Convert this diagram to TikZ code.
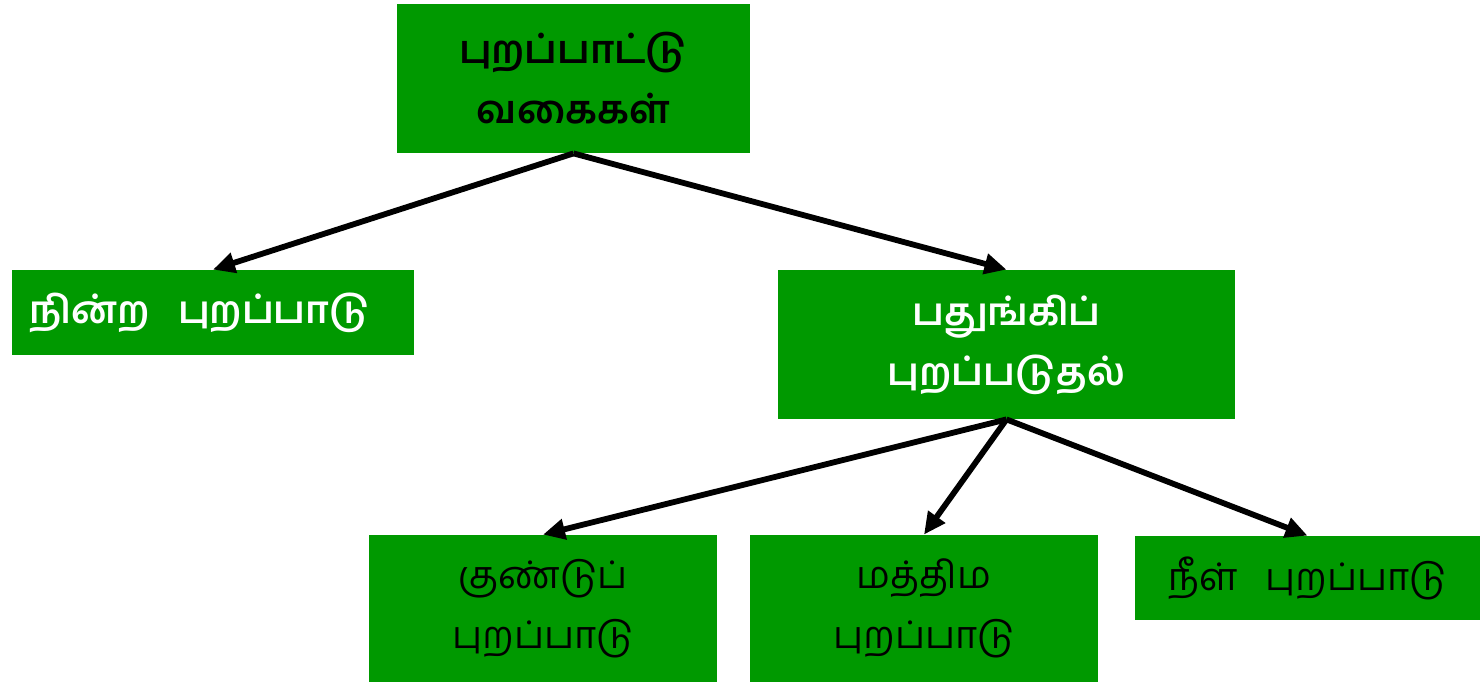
\documentclass[tikz,border=0pt]{standalone}
\usepackage{fontspec}
\newfontfamily\tamil[Script=Tamil]{Hind Madurai}
\usetikzlibrary{arrows.meta}
\definecolor{boxgreen}{RGB}{0,153,0}
\tikzset{
  box/.style={fill=boxgreen, draw=none, inner sep=0pt, align=center,
    font=\tamil\fontsize{19pt}{30pt}\selectfont},
  arr/.style={line width=2.9pt, -{Triangle[length=11pt,width=10pt]}, shorten >=0pt}
}
\begin{document}
\begin{tikzpicture}[x=0.5pt,y=-0.5pt]
\useasboundingbox (0,0) rectangle (1480,682);
\node[box, text=black, font=\tamil\bfseries\fontsize{19.5pt}{30pt}\selectfont, minimum width=176.5pt, minimum height=74.5pt] (top) at (573.5,78.5) {புறப்பாட்டு\\வகைகள்};
\node[box, text=white, font=\tamil\bfseries\fontsize{19pt}{30pt}\selectfont, minimum width=201pt, minimum height=42.5pt] (left) at (213,312.5) {\hspace*{-13pt}நின்ற~~~புறப்பாடு};
\node[box, text=white, font=\tamil\bfseries\fontsize{19pt}{30pt}\selectfont, minimum width=228.5pt, minimum height=74.5pt] (right) at (1006.5,344.5) {பதுங்கிப்\\புறப்படுதல்};
\node[box, text=black, minimum width=174pt, minimum height=73.5pt] (b1) at (543,608.5) {குண்டுப்\\புறப்பாடு};
\node[box, text=black, minimum width=174pt, minimum height=73.5pt] (b2) at (924,608.5) {மத்திம\\புறப்பாடு};
\node[box, text=black, minimum width=172.5pt, minimum height=42pt] (b3) at (1307.5,578) {நீள்~~~புறப்பாடு};
\draw[arr] (top.south) -- (left.north);
\draw[arr] (top.south) -- (right.north);
\draw[arr] (right.south) -- (b1.north);
\draw[arr] (right.south) -- (b2.north);
\draw[arr] (right.south) -- (b3.north);
\end{tikzpicture}
\end{document}
